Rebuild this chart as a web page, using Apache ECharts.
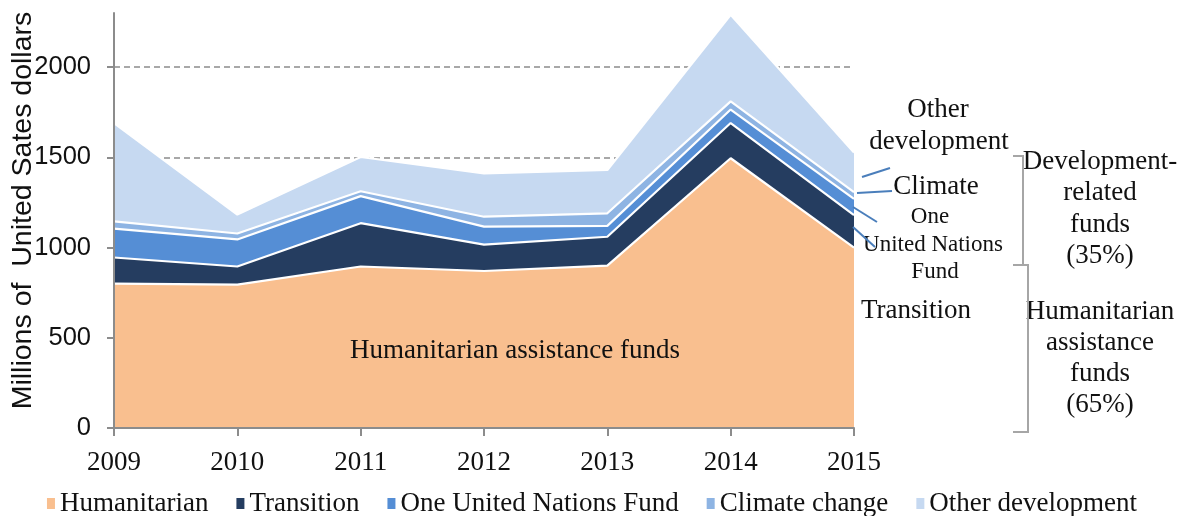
<!DOCTYPE html>
<html>
<head>
<meta charset="utf-8">
<script src="https://cdn.jsdelivr.net/npm/echarts@6/dist/echarts.min.js"></script>
<style>
html,body{margin:0;padding:0;background:#fff;}
#chart{width:1184px;height:516px;}
</style>
</head>
<body>
<div id="chart"></div>
<script>
var years = ['2009', '2010', '2011', '2012', '2013', '2014', '2015'];
var humanitarian = [800, 795, 895, 870, 900, 1495, 1000];
var transition = [145, 100, 240, 146, 160, 195, 180];
var oneUN = [160, 150, 150, 100, 60, 75, 90];
var climate = [40, 33, 27, 55, 70, 45, 37];
var otherDev = [545, 105, 190, 240, 240, 480, 220];
var yTicks = [0, 500, 1000, 1500, 2000];
var seriesNames = ['Humanitarian', 'Transition', 'One United Nations Fund', 'Climate change', 'Other development'];
var seriesColors = ['#F9BF8F', '#253D60', '#558ED5', '#8EB4E3', '#C6D9F1'];
var seriesData = [humanitarian, transition, oneUN, climate, otherDev];

var SERIF = '"Liberation Serif", "DejaVu Serif", serif';
var SANS = '"Liberation Sans", "Open Sans", sans-serif';

var chart = echarts.init(document.getElementById('chart'), null, {renderer: 'canvas'});

var series = seriesNames.map(function (n, i) {
  return {
    name: n,
    type: 'line',
    stack: 'total',
    data: seriesData[i],
    yAxisIndex: 0,
    symbol: 'none',
    smooth: false,
    lineStyle: {color: '#ffffff', width: 2.2},
    itemStyle: {color: seriesColors[i]},
    areaStyle: {color: seriesColors[i], opacity: 1},
    emphasis: {disabled: true},
    z: 2
  };
});

function txt(x, y, s, size) {
  return {
    type: 'text', x: x, y: y, z: 100,
    style: {text: s, fill: '#111', font: (size || 27) + 'px ' + SERIF, textAlign: 'center', textVerticalAlign: 'middle'}
  };
}
function line(pts, color, w) {
  return {type: 'polyline', z: 100, shape: {points: pts}, style: {stroke: color, lineWidth: w || 2, fill: null}};
}

var yBase = {
  type: 'value',
  min: 0,
  max: 2300,
  interval: 500,
  position: 'left'
};

var option = {
  animation: false,
  backgroundColor: '#ffffff',
  grid: {left: 114, right: 330, top: 13, bottom: 88, containLabel: false, outerBoundsMode: 'none'},
  legend: {
    left: 'center',
    top: 485,
    icon: 'rect',
    itemWidth: 8,
    itemHeight: 11,
    itemGap: 28,
    textStyle: {fontFamily: SERIF, fontSize: 27, color: '#111'},
    data: seriesNames.map(function (n, i) { return {name: n, itemStyle: {color: seriesColors[i], borderWidth: 0}}; })
  },
  xAxis: {
    type: 'category',
    data: years,
    boundaryGap: false,
    axisLine: {lineStyle: {color: '#8c8c8c', width: 2}},
    axisTick: {show: true, length: 8, lineStyle: {color: '#8c8c8c', width: 2}},
    axisLabel: {fontFamily: SERIF, fontSize: 27, color: '#111', margin: 21},
    splitLine: {show: false},
    z: 10
  },
  yAxis: [
    Object.assign({}, yBase, {
      axisLine: {show: false},
      axisTick: {show: false},
      axisLabel: {show: false},
      splitLine: {show: true, showMinLine: false, showMaxLine: false, lineStyle: {color: '#8c8c8c', width: 1.5, type: [6, 4]}},
      z: 0
    }),
    Object.assign({}, yBase, {
      name: 'Millions of  United Sates dollars',
      nameLocation: 'middle',
      nameGap: 76,
      nameMoveOverlap: false,
      nameTextStyle: {fontFamily: SANS, fontSize: 28.5, color: '#111', padding: [0, 0, 0, 20]},
      axisLine: {show: true, lineStyle: {color: '#8c8c8c', width: 2}},
      axisTick: {show: true, length: 7, customValues: yTicks, lineStyle: {color: '#8c8c8c', width: 2}},
      axisLabel: {fontFamily: SANS, fontSize: 25.5, color: '#111', margin: 23, customValues: yTicks,
        formatter: function (v) { return String(v); }},
      splitLine: {show: false},
      z: 10
    })
  ],
  series: series,
  graphic: [
    txt(515, 351, 'Humanitarian assistance funds', 27),
    txt(938, 110, 'Other', 27),
    txt(939, 142, 'development', 27),
    txt(936, 187, 'Climate', 27),
    txt(930, 217, 'One', 23),
    txt(933, 245, 'United Nations', 23),
    txt(935, 272, 'Fund', 23),
    txt(916, 311, 'Transition', 27),
    txt(1100, 162, 'Development-', 27),
    txt(1100, 193, 'related', 27),
    txt(1100, 225, 'funds', 27),
    txt(1100, 256, '(35%)', 27),
    txt(1100, 312, 'Humanitarian', 27),
    txt(1100, 343, 'assistance', 27),
    txt(1100, 374, 'funds', 27),
    txt(1100, 405, '(65%)', 27),
    line([[1013, 156], [1023, 156], [1023, 264]], '#a6a6a6', 2),
    line([[1013, 265], [1028, 265], [1028, 432], [1013, 432]], '#a6a6a6', 2),
    line([[862, 177], [890, 168]], '#4a7ebb', 2),
    line([[857, 193], [892, 191]], '#4a7ebb', 2),
    line([[853, 207], [877, 222]], '#4a7ebb', 2),
    line([[853, 227], [875, 247]], '#4a7ebb', 2)
  ]
};
chart.setOption(option);
</script>
</body>
</html>
